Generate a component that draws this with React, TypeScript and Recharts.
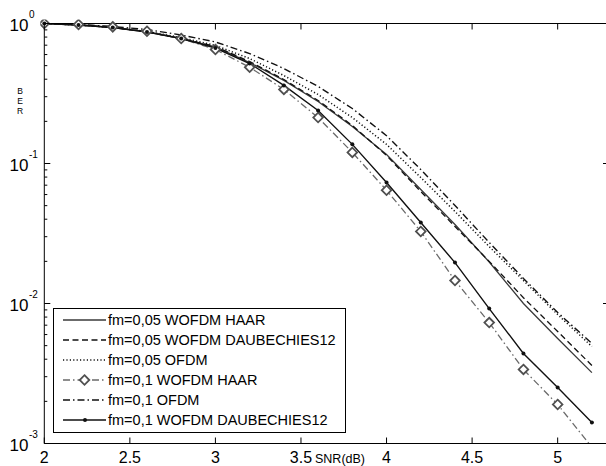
import { Legend, Line, LineChart, XAxis, YAxis } from "recharts";

const snr = [2, 2.2, 2.4, 2.6, 2.8, 3, 3.2, 3.4, 3.6, 3.8, 4, 4.2, 4.4, 4.6, 4.8, 5, 5.2];

const haar005 = [1, 0.976, 0.936, 0.87, 0.781, 0.68, 0.526, 0.392, 0.277, 0.184, 0.116, 0.0652, 0.0367, 0.0198, 0.01, 0.00562, 0.00321];
const daub005 = [1, 0.976, 0.936, 0.87, 0.781, 0.685, 0.535, 0.398, 0.282, 0.187, 0.114, 0.0631, 0.0355, 0.02, 0.011, 0.00631, 0.00361];
const ofdm005 = [1, 0.976, 0.936, 0.877, 0.794, 0.697, 0.562, 0.425, 0.311, 0.213, 0.137, 0.0794, 0.0454, 0.0255, 0.0146, 0.00834, 0.00493];
const haar01 = [1, 0.984, 0.947, 0.881, 0.781, 0.652, 0.487, 0.338, 0.213, 0.12, 0.0644, 0.0327, 0.0146, 0.00731, 0.00338, 0.0019, 0.00094];
const ofdm01 = [1, 0.984, 0.952, 0.906, 0.828, 0.738, 0.61, 0.477, 0.355, 0.247, 0.158, 0.0906, 0.0501, 0.0273, 0.0151, 0.00862, 0.00518];
const daub01 = [1, 0.976, 0.936, 0.87, 0.781, 0.668, 0.518, 0.361, 0.239, 0.137, 0.0731, 0.0379, 0.0196, 0.0092, 0.0044, 0.00251, 0.00141];

const names = [
  "fm=0,05 WOFDM HAAR",
  "fm=0,05 WOFDM DAUBECHIES12",
  "fm=0,05 OFDM",
  "fm=0,1 WOFDM HAAR",
  "fm=0,1 OFDM",
  "fm=0,1 WOFDM DAUBECHIES12",
];
const keys = ["haar005", "daub005", "ofdm005", "haar01", "ofdm01", "daub01"];

const xTicks = [2, 2.5, 3, 3.5, 4, 4.5, 5];
const yMajor = [0.001, 0.01, 0.1, 1];

// line styles, same order as names
const styles = [
  { stroke: "#3a3a3a", dash: undefined, width: 1.3, marker: "none" },
  { stroke: "#111", dash: "6 3.5", width: 1.3, marker: "none" },
  { stroke: "#111", dash: "1.2 2.2", width: 1.5, marker: "none" },
  { stroke: "#6a6a6a", dash: "7 3 1.5 3", width: 1.3, marker: "diamond" },
  { stroke: "#111", dash: "7 3 1.5 3", width: 1.4, marker: "none" },
  { stroke: "#111", dash: undefined, width: 1.4, marker: "dot" },
];

const data = snr.map((s, i) => ({
  snr: s,
  haar005: haar005[i],
  daub005: daub005[i],
  ofdm005: ofdm005[i],
  haar01: haar01[i],
  ofdm01: ofdm01[i],
  daub01: daub01[i],
}));

const yTicks: number[] = [];
yMajor.forEach((m) => {
  for (let k = 1; k <= 9; k++) {
    if (m === 1 && k > 1) break;
    yTicks.push(+(m * k).toPrecision(3));
  }
});

const FONT = "'Liberation Sans', Arial, Helvetica, sans-serif";
const Y_MIN = yMajor[0];

const isMajor = (v: number) => Math.abs(Math.log10(v) - Math.round(Math.log10(v))) < 1e-6;

const diamond = (cx: number, cy: number, r: number) =>
  `M${cx},${cy - r}L${cx + r},${cy}L${cx},${cy + r}L${cx - r},${cy}Z`;

// markers outside the axes are not drawn (like matlab)
const DiamondDot = (p: any) =>
  p.cx == null || p.cy == null || p.value < Y_MIN ? null : (
    <path d={diamond(p.cx, p.cy, 4.8)} fill="#fff" stroke="#505050" strokeWidth={1.8} />
  );

const SmallDot = (p: any) =>
  p.cx == null || p.cy == null || p.value < Y_MIN ? null : (
    <circle cx={p.cx} cy={p.cy} r={2} fill="#111" stroke="none" />
  );

// element + clipDot:false so corner markers are not cut by the plot clip
const unclipped = (el: any) => ({ ...el, clipDot: false, r: 6 });

const BottomTick = ({ x, y, payload }: any) => (
  <g>
    <line x1={x} x2={x} y1={y} y2={y - 6} stroke="#000" />
    <text x={x} y={y + 19} textAnchor="middle" fontSize={16} fontFamily={FONT} fill="#000">
      {payload.value}
    </text>
  </g>
);

const TopTick = ({ x, y }: any) => <line x1={x} x2={x} y1={y} y2={y + 6} stroke="#000" />;

const LeftTick = ({ x, y, payload }: any) => {
  const v = payload.value;
  const major = isMajor(v);
  const e = Math.round(Math.log10(v));
  return (
    <g>
      <line x1={x} x2={x + (major ? 6 : 3)} y1={y} y2={y} stroke="#000" />
      {major && (
        <>
          <text x={9.5} y={y + 7} fontSize={17} fontFamily={FONT} fill="#000">
            10
          </text>
          <text x={29} y={y - 6} fontSize={10} fontFamily={FONT} fill="#000">
            {e === 0 ? "0" : `-${-e}`}
          </text>
        </>
      )}
    </g>
  );
};

const RightTick = ({ x, y }: any) => <line x1={x} x2={x - 6} y1={y} y2={y} stroke="#000" />;

const LegendBox = () => (
  <svg width={293} height={125} style={{ display: "block" }}>
    <rect x={0.5} y={0.5} width={292} height={124} fill="#fff" stroke="#000" />
    {names.map((n, i) => {
      const st = styles[i];
      const cy = 12 + 20 * i;
      return (
        <g key={n}>
          <line x1={10} x2={53} y1={cy} y2={cy} stroke={st.stroke} strokeWidth={st.width} strokeDasharray={st.dash} />
          {st.marker === "diamond" && (
            <path d={diamond(31.5, cy, 4.8)} fill="#fff" stroke="#505050" strokeWidth={1.8} />
          )}
          {st.marker === "dot" && <circle cx={32} cy={cy} r={2} fill="#111" />}
          <text x={55} y={cy + 5} fontSize={14.5} fontFamily={FONT} fill="#000">
            {n}
          </text>
        </g>
      );
    })}
  </svg>
);

export default function App() {
  return (
    <div
      style={{
        position: "absolute",
        left: 0,
        top: 0,
        width: 606,
        height: 466,
        overflow: "hidden",
        background: "#fff",
      }}
    >
      <LineChart
        width={620}
        height={466}
        data={data}
        margin={{ top: 22.5, right: 10, bottom: 21.5, left: 43.3 }}
      >
        <XAxis
          dataKey="snr"
          type="number"
          domain={[2, 5.3]}
          ticks={xTicks}
          interval={0}
          height={1}
          tickSize={0}
          tickMargin={0}
          tickLine={false}
          axisLine={{ stroke: "#000" }}
          tick={BottomTick}
          allowDataOverflow
          label={{
            content: () => (
              <text x={315} y={462.5} fontSize={12.5} fontFamily={FONT} fill="#000">
                SNR(dB)
              </text>
            ),
          }}
        />
        <XAxis
          xAxisId="top"
          dataKey="snr"
          type="number"
          orientation="top"
          domain={[2, 5.3]}
          ticks={xTicks}
          interval={0}
          height={1}
          tickSize={0}
          tickMargin={0}
          tickLine={false}
          axisLine={{ stroke: "#000" }}
          tick={TopTick}
          allowDataOverflow
        />
        <YAxis
          scale="log"
          type="number"
          domain={[0.001, 1]}
          ticks={yTicks}
          interval={0}
          width={1}
          tickSize={0}
          tickMargin={0}
          tickLine={false}
          axisLine={{ stroke: "#000" }}
          tick={LeftTick}
          allowDataOverflow
          label={{
            content: () => (
              <text fontSize={8.5} fontFamily={FONT} fill="#000" textAnchor="middle">
                <tspan x={20} y={93.5}>B</tspan>
                <tspan x={20} y={103.5}>E</tspan>
                <tspan x={20} y={113.5}>R</tspan>
              </text>
            ),
          }}
        />
        <YAxis
          yAxisId="right"
          orientation="right"
          scale="log"
          type="number"
          domain={[0.001, 1]}
          ticks={yMajor}
          interval={0}
          width={1}
          tickSize={0}
          tickMargin={0}
          tickLine={false}
          axisLine={{ stroke: "#000" }}
          tick={RightTick}
          allowDataOverflow
        />
        <Legend
          layout="vertical"
          align="center"
          verticalAlign="middle"
          wrapperStyle={{ left: 53, top: 307.5, width: 293, height: 125 }}
          content={LegendBox}
        />
        {keys.map((k, i) => {
          const st = styles[i];
          const dot =
            st.marker === "diamond"
              ? unclipped(<DiamondDot />)
              : st.marker === "dot"
              ? unclipped(<SmallDot />)
              : false;
          return (
            <Line
              key={k}
              dataKey={k}
              name={names[i]}
              type="linear"
              stroke={st.stroke}
              strokeWidth={st.width}
              strokeDasharray={st.dash}
              dot={dot}
              activeDot={false}
              isAnimationActive={false}
            />
          );
        })}
      </LineChart>
    </div>
  );
}
